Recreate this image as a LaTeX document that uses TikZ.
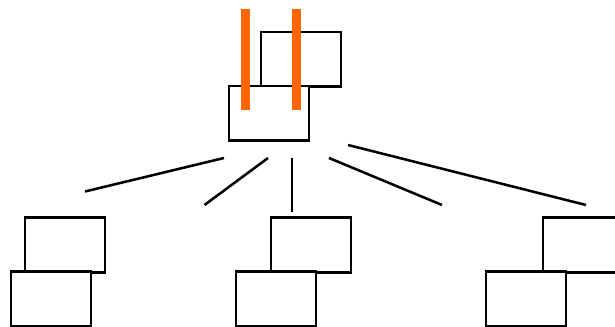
\documentclass[tikz,border=0pt]{standalone}
\definecolor{barorange}{HTML}{FF6600}
\begin{document}
\begin{tikzpicture}[x=0.75pt,y=-0.75pt,
  box/.style={draw=black,line width=1.9pt,fill=white,minimum width=60pt,minimum height=40.9pt,inner sep=0pt,outer sep=0pt},
  link/.style={draw=black,line width=1.9pt},
  bar/.style={fill=barorange,draw=none,minimum width=6.8pt,minimum height=75.8pt,inner sep=0pt,outer sep=0pt}]
\useasboundingbox (0,0) rectangle (615,327);
\clip (0,0) rectangle (615,327);
% top group
\node[box] (tb) at (301,59.5) {};
\node[box] (tf) at (269,113.5) {};
\node[bar] (b1) at (245.2,59.5) {};
\node[bar] (b2) at (296.5,59.5) {};
% bottom groups
\node[box] (lb) at (65,245) {};
\node[box] (lf) at (51,299) {};
\node[box] (mb) at (311,245) {};
\node[box] (mf) at (276,299) {};
\node[box] (rb) at (583,245) {};
\node[box] (rf) at (526,299) {};
% connectors (free-standing segments)
\coordinate (a1) at (224,158); \coordinate (a2) at (85,191.5);
\coordinate (c1) at (268,158); \coordinate (c2) at (204.5,205);
\coordinate (d1) at (292,158); \coordinate (d2) at (292,212);
\coordinate (e1) at (329,158); \coordinate (e2) at (442,205);
\coordinate (f1) at (348,145); \coordinate (f2) at (586,205);
\draw[link] (a1) -- (a2);
\draw[link] (c1) -- (c2);
\draw[link] (d1) -- (d2);
\draw[link] (e1) -- (e2);
\draw[link] (f1) -- (f2);
\end{tikzpicture}
\end{document}
